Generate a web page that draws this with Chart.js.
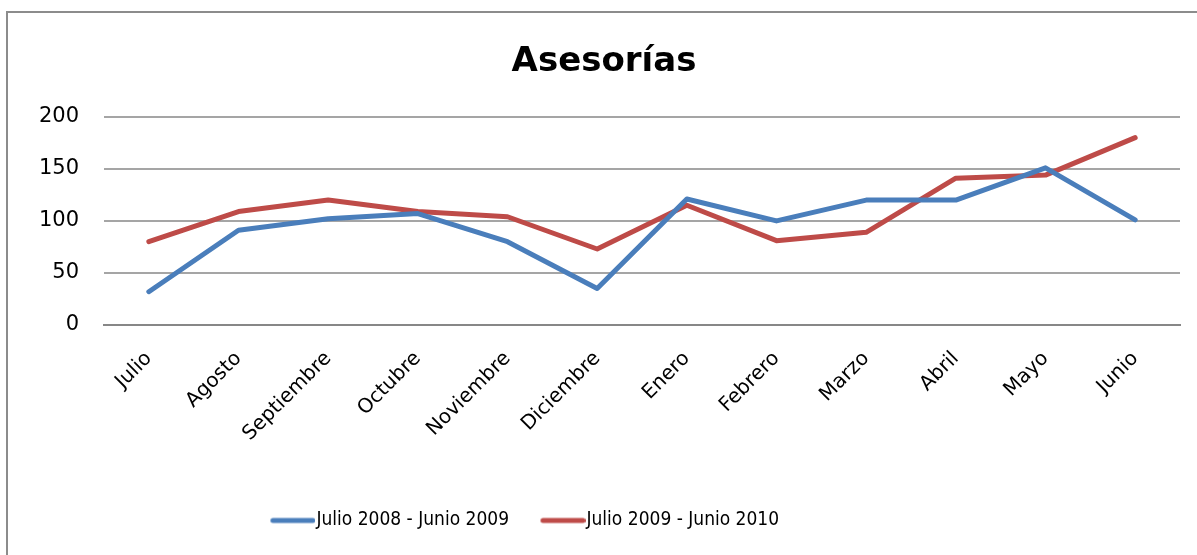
<!DOCTYPE html>
<html>
<head>
<meta charset="utf-8">
<script src="https://cdn.jsdelivr.net/npm/chart.js@4/dist/chart.umd.min.js"></script>
<style>
  html, body { margin: 0; padding: 0; background: #fff; }
  #wrap { position: relative; width: 1197px; height: 555px; }
</style>
</head>
<body>
<div id="wrap"><canvas id="c" width="1197" height="555"></canvas></div>
<script>
const categories = ['Julio', 'Agosto', 'Septiembre', 'Octubre', 'Noviembre', 'Diciembre', 'Enero', 'Febrero', 'Marzo', 'Abril', 'Mayo', 'Junio'];
const seriesNames = ['Julio 2008 - Junio 2009', 'Julio 2009 - Junio 2010'];
const series2008 = [32, 91, 102, 107, 80, 35, 121, 100, 120, 120, 151, 101];
const series2009 = [80, 109, 120, 109, 104, 73, 115, 81, 89, 141, 144, 180];
const yTicks = [0, 50, 100, 150, 200];
const titleText = 'Asesorías';
const colors = ['#4a7ebb', '#be4b48'];

// legend marker: a short thick line placed at the right of a transparent image
function legendLine(color) {
  const cv = document.createElement('canvas');
  cv.width = 75; cv.height = 8;
  const g = cv.getContext('2d');
  g.strokeStyle = color; g.lineWidth = 5; g.lineCap = 'round';
  g.beginPath(); g.moveTo(32.5, 4); g.lineTo(72.5, 4); g.stroke();
  return cv;
}

const frame = {
  id: 'frame',
  beforeDraw(chart) {
    const ctx = chart.ctx;
    ctx.save();
    ctx.fillStyle = '#ffffff';
    ctx.fillRect(0, 0, chart.width, chart.height);
    ctx.strokeStyle = '#8c8c8c';
    ctx.lineWidth = 2;
    ctx.beginPath();
    ctx.moveTo(7, chart.height + 2);
    ctx.lineTo(7, 12);
    ctx.lineTo(chart.width + 2, 12);
    ctx.stroke();
    ctx.restore();
  },
  afterLayout(chart) {
    const lg = chart.legend;
    if (lg) { const shift = -76; lg.left += shift; lg.right += shift; }
    const tb = chart.titleBlock;
    if (tb) { tb.left += 14; tb.right += 14; }
  }
};

new Chart(document.getElementById('c'), {
  type: 'line',
  data: {
    labels: categories,
    datasets: [
      { label: seriesNames[0], data: series2008, borderColor: colors[0], backgroundColor: colors[0],
        pointStyle: legendLine(colors[0]),
        borderWidth: 5, pointRadius: 0, tension: 0, borderCapStyle: 'round', borderJoinStyle: 'round' },
      { label: seriesNames[1], data: series2009, borderColor: colors[1], backgroundColor: colors[1],
        pointStyle: legendLine(colors[1]),
        borderWidth: 5, pointRadius: 0, tension: 0, borderCapStyle: 'round', borderJoinStyle: 'round' }
    ]
  },
  options: {
    responsive: false,
    animation: false,
    layout: { padding: { top: 10, right: 17, bottom: 15, left: 0 } },
    plugins: {
      title: {
        display: true, text: titleText, color: '#000',
        font: { family: 'DejaVu Sans', size: 34, weight: 'bold' },
        padding: { top: 32, bottom: 34 }
      },
      legend: {
        position: 'bottom',
        labels: {
          color: '#000',
          font: { family: "'DejaVu Sans Condensed', 'Liberation Sans', sans-serif", size: 19 },
          usePointStyle: true, pointStyleWidth: 58, boxHeight: 8,
          padding: 10
        }
      },
      tooltip: { enabled: false }
    },
    scales: {
      x: {
        offset: true,
        grid: { display: false, drawTicks: false },
        border: { display: true, color: '#878787', width: 2 },
        ticks: { color: '#000', minRotation: 45, maxRotation: 45, padding: 22,
                 font: { family: 'DejaVu Sans', size: 20 } },
        afterFit(s) { s.height = 176; }
      },
      y: {
        min: 0, max: 200,
        afterBuildTicks(s) { s.ticks = yTicks.map(v => ({ value: v })); },
        grid: { drawTicks: false, lineWidth: 2,
                color: c => c.tick && c.tick.value === 0 ? '#878787' : '#a5a5a5' },
        border: { display: false },
        ticks: { color: '#000', padding: 25, font: { family: 'DejaVu Sans', size: 21 } },
        afterFit(s) { s.width = 104; }
      }
    }
  },
  plugins: [frame]
});
</script>
</body>
</html>
